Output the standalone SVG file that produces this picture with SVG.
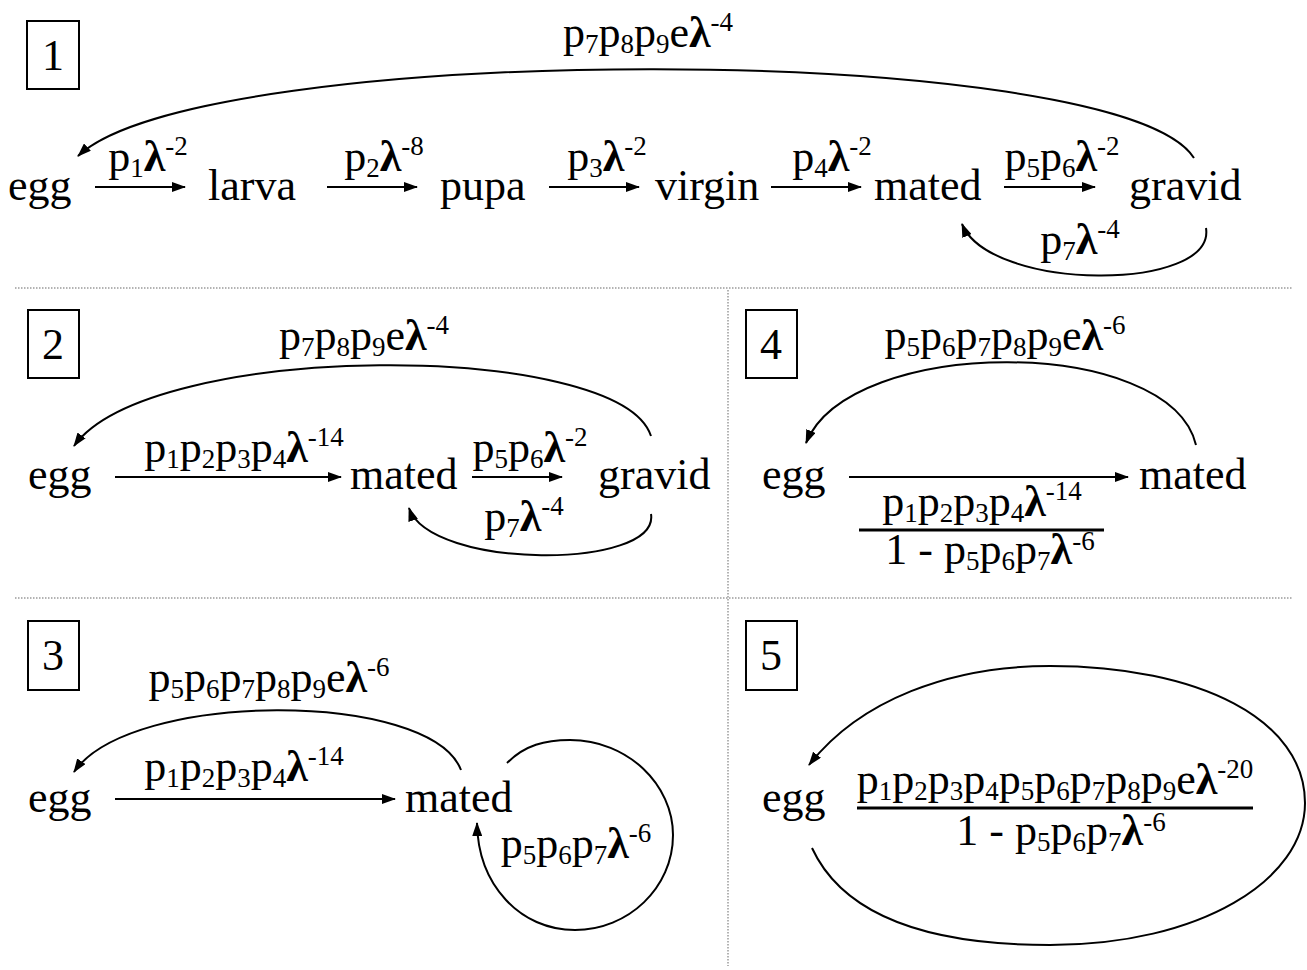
<svg xmlns="http://www.w3.org/2000/svg" width="1307" height="970" viewBox="0 0 1307 970">
<style>
.t{font-family:"Liberation Serif","Times New Roman",serif;font-size:44px;fill:#000}
.s{font-size:27px}
.l{font-weight:bold}
.c{fill:none;stroke:#000;stroke-width:2}
.box{fill:none;stroke:#000;stroke-width:2}
.div{fill:none;stroke:#9a9a9a;stroke-width:1.5;stroke-dasharray:1.5 1.5}
.bar{stroke:#000;stroke-width:3}
</style>
<defs>
<marker id="ah" markerWidth="14" markerHeight="10" refX="13" refY="5" orient="auto" markerUnits="userSpaceOnUse"><path d="M0,0 L14,5 L0,10 z" fill="#000"/></marker>
</defs>
<rect width="1307" height="970" fill="#fff"/>
<g id="dividers">
<line class="div" x1="15" y1="288" x2="1292" y2="288"/>
<line class="div" x1="15" y1="598" x2="1292" y2="598"/>
<line class="div" x1="728" y1="290" x2="728" y2="966"/>
</g>
<g id="panel-labels">
<g id="box1"><rect class="box" x="27" y="21" width="52" height="68"/><text class="t" x="53" y="70" text-anchor="middle">1</text></g>
<g id="box2"><rect class="box" x="28" y="310" width="51" height="68"/><text class="t" x="53" y="359" text-anchor="middle">2</text></g>
<g id="box3"><rect class="box" x="28" y="621" width="51" height="69"/><text class="t" x="53" y="670" text-anchor="middle">3</text></g>
<g id="box4"><rect class="box" x="746" y="310" width="51" height="68"/><text class="t" x="771" y="359" text-anchor="middle">4</text></g>
<g id="box5"><rect class="box" x="746" y="621" width="51" height="69"/><text class="t" x="771" y="670" text-anchor="middle">5</text></g>
</g>
<g id="connectors">
<!-- panel 1 -->
<path class="c" marker-end="url(#ah)" d="M1194,158 C1120,40 200,40 78,156"/>
<line class="c" marker-end="url(#ah)" x1="95" y1="187" x2="185" y2="187"/>
<line class="c" marker-end="url(#ah)" x1="327" y1="187" x2="417" y2="187"/>
<line class="c" marker-end="url(#ah)" x1="549" y1="187" x2="639" y2="187"/>
<line class="c" marker-end="url(#ah)" x1="771" y1="187" x2="861" y2="187"/>
<line class="c" marker-end="url(#ah)" x1="1004" y1="187" x2="1095" y2="187"/>
<path class="c" marker-end="url(#ah)" d="M1206,228 C1216,292 990,292 962,224"/>
<!-- panel 2 -->
<path class="c" marker-end="url(#ah)" d="M651,436 C620,340 150,340 74,446"/>
<line class="c" marker-end="url(#ah)" x1="115" y1="477" x2="341" y2="477"/>
<line class="c" marker-end="url(#ah)" x1="472" y1="477" x2="562" y2="477"/>
<path class="c" marker-end="url(#ah)" d="M651,514 C660,570 430,570 409,508"/>
<!-- panel 4 -->
<path class="c" marker-end="url(#ah)" d="M1196,445 C1170,335 850,335 806,443"/>
<line class="c" marker-end="url(#ah)" x1="849" y1="477" x2="1128" y2="477"/>
<!-- panel 3 -->
<path class="c" marker-end="url(#ah)" d="M461,770 C430,690 130,690 74,772"/>
<line class="c" marker-end="url(#ah)" x1="115" y1="799" x2="395" y2="799"/>
<path class="c" marker-end="url(#ah)" d="M507,763 C525,745 545,740 570,740 C628,740 673,785 673,835 C673,888 628,930 575,930 C520,930 478,885 477,823"/>
<!-- panel 5 -->
<path class="c" marker-end="url(#ah)" d="M812,848 C850,930 960,945 1050,945 C1200,945 1305,880 1305,803 C1305,720 1200,666 1050,666 C950,666 860,700 809,765"/>
</g>
<g id="nodes">
<g id="p1-egg"><text class="t" x="8" y="200">egg</text></g>
<g id="p1-larva"><text class="t" x="208" y="200">larva</text></g>
<g id="p1-pupa"><text class="t" x="440" y="200">pupa</text></g>
<g id="p1-virgin"><text class="t" x="655" y="200">virgin</text></g>
<g id="p1-mated"><text class="t" x="874" y="200">mated</text></g>
<g id="p1-gravid"><text class="t" x="1129" y="200">gravid</text></g>
<g id="p2-egg"><text class="t" x="28" y="489">egg</text></g>
<g id="p2-mated"><text class="t" x="350" y="489">mated</text></g>
<g id="p2-gravid"><text class="t" x="598" y="489">gravid</text></g>
<g id="p4-egg"><text class="t" x="762" y="489">egg</text></g>
<g id="p4-mated"><text class="t" x="1139" y="489">mated</text></g>
<g id="p3-egg"><text class="t" x="28" y="812">egg</text></g>
<g id="p3-mated"><text class="t" x="405" y="812">mated</text></g>
<g id="p5-egg"><text class="t" x="762" y="812">egg</text></g>
</g>
<g id="edge-labels">
<text class="t" x="648" y="47" text-anchor="middle">p<tspan class="s" dy="6">7</tspan><tspan dy="-6">p</tspan><tspan class="s" dy="6">8</tspan><tspan dy="-6">p</tspan><tspan class="s" dy="6">9</tspan><tspan dy="-6">e</tspan><tspan class="l">λ</tspan><tspan class="s" dy="-16">-4</tspan></text>
<text class="t" x="148" y="171" text-anchor="middle">p<tspan class="s" dy="6">1</tspan><tspan class="l" dy="-6">λ</tspan><tspan class="s" dy="-16">-2</tspan></text>
<text class="t" x="384" y="171" text-anchor="middle">p<tspan class="s" dy="6">2</tspan><tspan class="l" dy="-6">λ</tspan><tspan class="s" dy="-16">-8</tspan></text>
<text class="t" x="607" y="171" text-anchor="middle">p<tspan class="s" dy="6">3</tspan><tspan class="l" dy="-6">λ</tspan><tspan class="s" dy="-16">-2</tspan></text>
<text class="t" x="832" y="171" text-anchor="middle">p<tspan class="s" dy="6">4</tspan><tspan class="l" dy="-6">λ</tspan><tspan class="s" dy="-16">-2</tspan></text>
<text class="t" x="1062" y="171" text-anchor="middle">p<tspan class="s" dy="6">5</tspan><tspan dy="-6">p</tspan><tspan class="s" dy="6">6</tspan><tspan class="l" dy="-6">λ</tspan><tspan class="s" dy="-16">-2</tspan></text>
<text class="t" x="1080" y="254" text-anchor="middle">p<tspan class="s" dy="6">7</tspan><tspan class="l" dy="-6">λ</tspan><tspan class="s" dy="-16">-4</tspan></text>

<text class="t" x="364" y="350" text-anchor="middle">p<tspan class="s" dy="6">7</tspan><tspan dy="-6">p</tspan><tspan class="s" dy="6">8</tspan><tspan dy="-6">p</tspan><tspan class="s" dy="6">9</tspan><tspan dy="-6">e</tspan><tspan class="l">λ</tspan><tspan class="s" dy="-16">-4</tspan></text>
<text class="t" x="244" y="462" text-anchor="middle">p<tspan class="s" dy="6">1</tspan><tspan dy="-6">p</tspan><tspan class="s" dy="6">2</tspan><tspan dy="-6">p</tspan><tspan class="s" dy="6">3</tspan><tspan dy="-6">p</tspan><tspan class="s" dy="6">4</tspan><tspan class="l" dy="-6">λ</tspan><tspan class="s" dy="-16">-14</tspan></text>
<text class="t" x="530" y="462" text-anchor="middle">p<tspan class="s" dy="6">5</tspan><tspan dy="-6">p</tspan><tspan class="s" dy="6">6</tspan><tspan class="l" dy="-6">λ</tspan><tspan class="s" dy="-16">-2</tspan></text>
<text class="t" x="524" y="531" text-anchor="middle">p<tspan class="s" dy="6">7</tspan><tspan class="l" dy="-6">λ</tspan><tspan class="s" dy="-16">-4</tspan></text>

<text class="t" x="1005" y="350" text-anchor="middle">p<tspan class="s" dy="6">5</tspan><tspan dy="-6">p</tspan><tspan class="s" dy="6">6</tspan><tspan dy="-6">p</tspan><tspan class="s" dy="6">7</tspan><tspan dy="-6">p</tspan><tspan class="s" dy="6">8</tspan><tspan dy="-6">p</tspan><tspan class="s" dy="6">9</tspan><tspan dy="-6">e</tspan><tspan class="l">λ</tspan><tspan class="s" dy="-16">-6</tspan></text>
<text class="t" x="982" y="516" text-anchor="middle">p<tspan class="s" dy="6">1</tspan><tspan dy="-6">p</tspan><tspan class="s" dy="6">2</tspan><tspan dy="-6">p</tspan><tspan class="s" dy="6">3</tspan><tspan dy="-6">p</tspan><tspan class="s" dy="6">4</tspan><tspan class="l" dy="-6">λ</tspan><tspan class="s" dy="-16">-14</tspan></text>
<line class="bar" x1="859" y1="530" x2="1104" y2="530"/>
<text class="t" x="990" y="564" text-anchor="middle">1 - p<tspan class="s" dy="6">5</tspan><tspan dy="-6">p</tspan><tspan class="s" dy="6">6</tspan><tspan dy="-6">p</tspan><tspan class="s" dy="6">7</tspan><tspan class="l" dy="-6">λ</tspan><tspan class="s" dy="-14">-6</tspan></text>

<text class="t" x="269" y="692" text-anchor="middle">p<tspan class="s" dy="6">5</tspan><tspan dy="-6">p</tspan><tspan class="s" dy="6">6</tspan><tspan dy="-6">p</tspan><tspan class="s" dy="6">7</tspan><tspan dy="-6">p</tspan><tspan class="s" dy="6">8</tspan><tspan dy="-6">p</tspan><tspan class="s" dy="6">9</tspan><tspan dy="-6">e</tspan><tspan class="l">λ</tspan><tspan class="s" dy="-16">-6</tspan></text>
<text class="t" x="244" y="781" text-anchor="middle">p<tspan class="s" dy="6">1</tspan><tspan dy="-6">p</tspan><tspan class="s" dy="6">2</tspan><tspan dy="-6">p</tspan><tspan class="s" dy="6">3</tspan><tspan dy="-6">p</tspan><tspan class="s" dy="6">4</tspan><tspan class="l" dy="-6">λ</tspan><tspan class="s" dy="-16">-14</tspan></text>
<text class="t" x="576" y="858" text-anchor="middle">p<tspan class="s" dy="6">5</tspan><tspan dy="-6">p</tspan><tspan class="s" dy="6">6</tspan><tspan dy="-6">p</tspan><tspan class="s" dy="6">7</tspan><tspan class="l" dy="-6">λ</tspan><tspan class="s" dy="-16">-6</tspan></text>

<text class="t" x="1055" y="794" text-anchor="middle">p<tspan class="s" dy="6">1</tspan><tspan dy="-6">p</tspan><tspan class="s" dy="6">2</tspan><tspan dy="-6">p</tspan><tspan class="s" dy="6">3</tspan><tspan dy="-6">p</tspan><tspan class="s" dy="6">4</tspan><tspan dy="-6">p</tspan><tspan class="s" dy="6">5</tspan><tspan dy="-6">p</tspan><tspan class="s" dy="6">6</tspan><tspan dy="-6">p</tspan><tspan class="s" dy="6">7</tspan><tspan dy="-6">p</tspan><tspan class="s" dy="6">8</tspan><tspan dy="-6">p</tspan><tspan class="s" dy="6">9</tspan><tspan dy="-6">e</tspan><tspan class="l">λ</tspan><tspan class="s" dy="-16">-20</tspan></text>
<line class="bar" x1="857" y1="808" x2="1253" y2="808"/>
<text class="t" x="1061" y="845" text-anchor="middle">1 - p<tspan class="s" dy="6">5</tspan><tspan dy="-6">p</tspan><tspan class="s" dy="6">6</tspan><tspan dy="-6">p</tspan><tspan class="s" dy="6">7</tspan><tspan class="l" dy="-6">λ</tspan><tspan class="s" dy="-14">-6</tspan></text>
</g>
</svg>
